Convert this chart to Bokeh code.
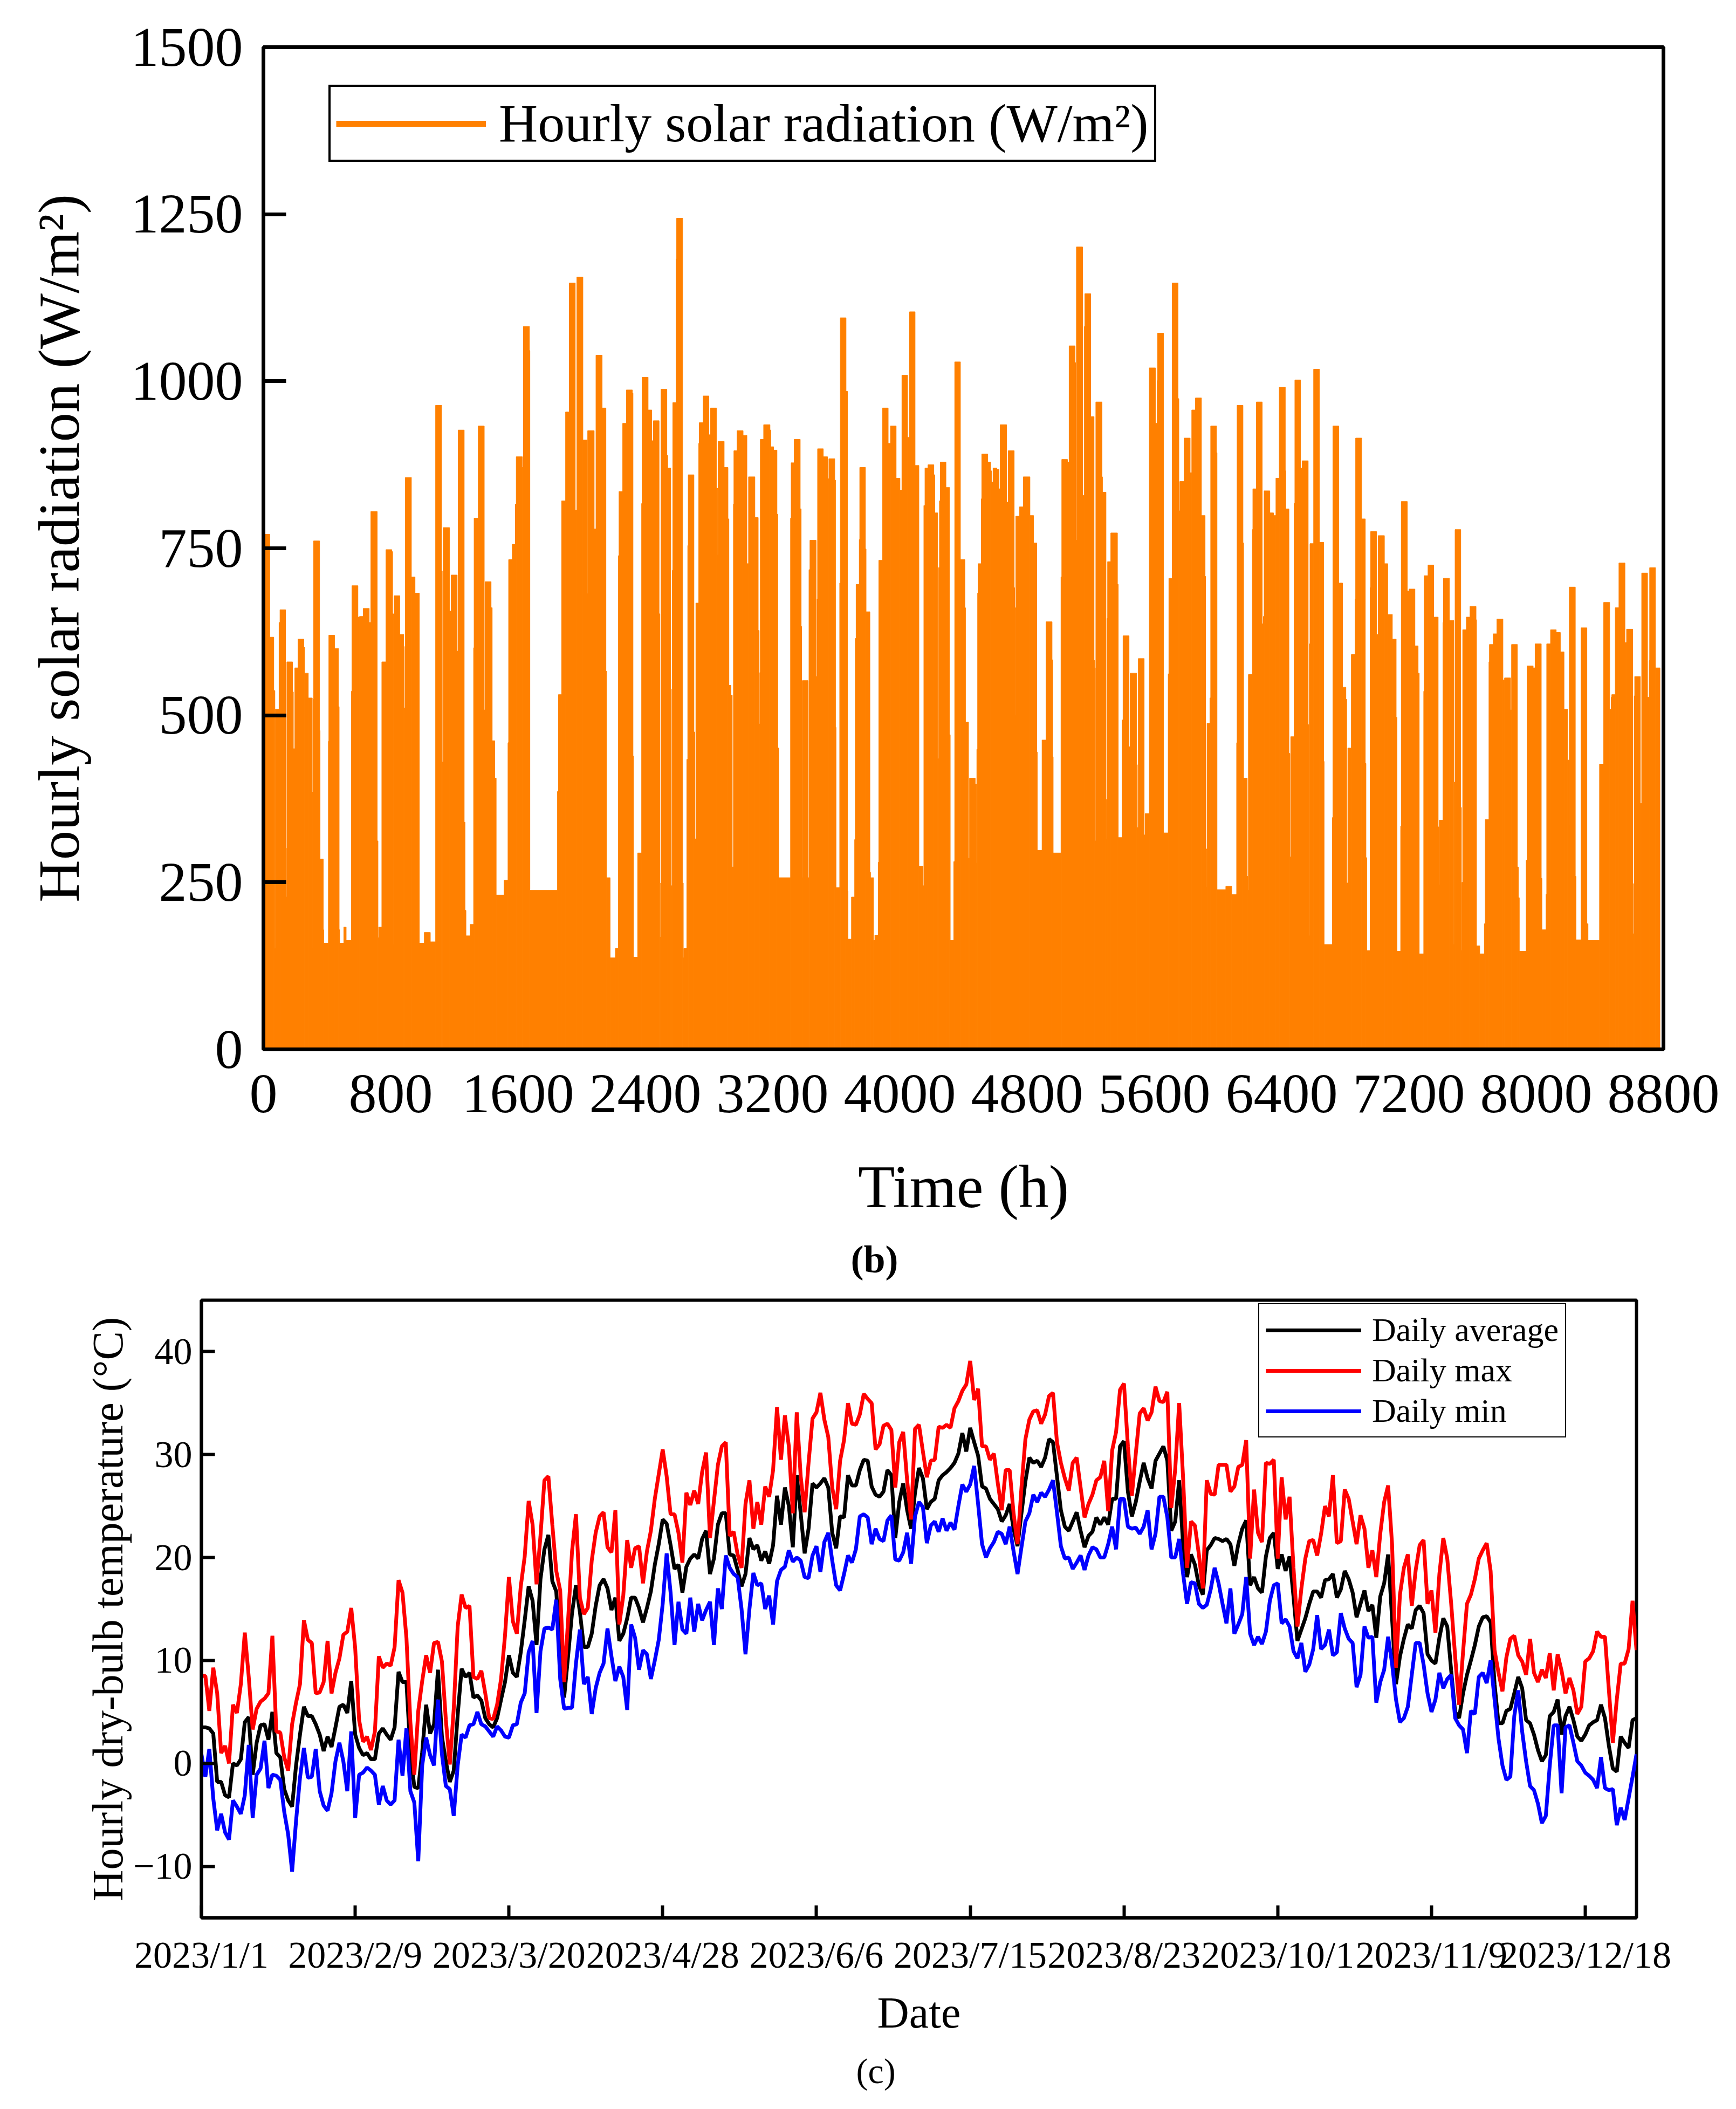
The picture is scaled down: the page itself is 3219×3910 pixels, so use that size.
from bokeh.plotting import figure
from bokeh.models import (ColumnDataSource, FixedTicker, Legend, LegendItem,
                          Title, Range1d)
from bokeh.embed import file_html
from bokeh.resources import INLINE

FONT = "Liberation Serif"
ORANGE = "#FF8000"

# ---- (b) hourly solar radiation, read as steps of the silhouette ----
hour_start = [
    0, 40, 65, 72, 75, 98, 104, 139, 144, 147, 183, 188, 197, 217, 254, 259, 282, 307, 310, 312,
    315, 353, 356, 376, 379, 408, 411, 447, 472, 476, 479, 505, 520, 553, 556, 594, 604, 627, 665, 675,
    715, 720, 724, 744, 770, 807, 812, 817, 821, 857, 882, 889, 892, 930, 953, 980, 1011, 1049, 1082, 1120,
    1124, 1130, 1170, 1180, 1218, 1224, 1262, 1267, 1273, 1299, 1321, 1324, 1350, 1388, 1393, 1431, 1438, 1454, 1463, 1512,
    1537, 1541, 1564, 1583, 1589, 1628, 1634, 1672, 1675, 1848, 1854, 1874, 1899, 1922, 1960, 1970, 2008, 2035, 2038, 2079,
    2090, 2129, 2153, 2157, 2179, 2212,
    2231, 2235, 2258, 2281, 2319, 2323, 2326, 2352, 2377, 2380, 2418, 2441, 2451, 2487, 2492, 2496, 2499, 2536, 2541, 2560,
    2564, 2570, 2573, 2594, 2597, 2635, 2639, 2642, 2661, 2667, 2670, 2706, 2712, 2718, 2736, 2739, 2764, 2800, 2810, 2848,
    2854, 2858, 2896, 2920, 2926, 2939, 2947, 2954, 2957, 2977, 3015, 3039, 3049, 3089, 3110, 3116, 3120, 3123, 3144, 3184,
    3189, 3207, 3228, 3233, 3239, 3313, 3317, 3336, 3374, 3380, 3383, 3387, 3423, 3429, 3435, 3474, 3480, 3483, 3519, 3546,
    3554, 3591, 3596, 3599, 3622, 3626, 3662, 3671, 3674, 3696, 3716, 3720, 3725, 3745, 3748, 3784, 3788, 3812, 3816, 3835,
    3843, 3864, 3868, 3891, 3927, 3941, 3977, 4001, 4013, 4049, 4061, 4096, 4120, 4146, 4151, 4158, 4177, 4214, 4220, 4238,
    4243, 4249, 4254, 4290, 4313, 4317, 4339, 4345, 4381, 4409, 4413, 4432, 4438,
    4474, 4482, 4484, 4489, 4492, 4512, 4515, 4553, 4571, 4576, 4586, 4610, 4624, 4631, 4671, 4681, 4719, 4722, 4725, 4729,
    4752, 4776, 4818, 4841, 4861, 4864, 4894, 4919, 4957, 4961, 4964, 5013, 5018, 5054, 5064, 5102, 5105, 5110, 5149, 5160,
    5163, 5200, 5221, 5225, 5229, 5232, 5271, 5274, 5296, 5300, 5303, 5306, 5326, 5368, 5373, 5397, 5403, 5441, 5448, 5489,
    5493, 5499, 5536, 5542, 5568, 5607, 5618, 5620, 5658, 5687, 5691, 5712, 5749, 5754, 5760, 5787, 5825, 5835, 5858, 5896,
    5919, 5922, 5926, 5931, 5949, 5954, 5991, 5994, 6049, 6086, 6117, 6120, 6157, 6161, 6184, 6188, 6191, 6216, 6219, 6241,
    6278, 6285, 6290, 6326, 6349, 6364, 6385, 6423, 6426, 6446, 6452, 6457, 6478, 6483, 6519, 6529, 6567, 6571, 6574, 6578,
    6601, 6638,
    6664, 6667, 6719, 6722, 6759, 6783, 6804, 6809, 6816, 6838, 6862, 6865, 6903, 6926, 6930, 6935, 6956, 6959, 6997, 7007,
    7046, 7067, 7096, 7120, 7125, 7148, 7152, 7190, 7201, 7238, 7258, 7265, 7293, 7296, 7320, 7356, 7384, 7388, 7391, 7414,
    7417, 7455, 7482, 7485, 7490, 7526, 7530, 7533, 7538, 7561, 7584, 7622, 7625, 7645, 7674, 7680, 7703, 7706, 7730, 7753,
    7791, 7801, 7839, 7845, 7882, 7888, 7894, 7937, 7943, 7981, 7993, 8032, 8036, 8062, 8066, 8090, 8126, 8152, 8175, 8198,
    8206, 8208, 8246, 8250, 8282, 8319, 8326, 8398, 8424, 8462, 8471, 8475, 8497, 8520, 8558, 8568, 8607, 8611, 8616, 8619,
    8655, 8663, 8700, 8710, 8713, 8750,
]
solar_w = [
    771, 617, 537, 151, 509, 639, 658, 301, 228, 580, 535, 450, 571, 614, 602, 563, 526, 385, 151, 524,
    761, 477, 285, 179, 159, 461, 620, 600, 513, 179, 159, 183, 163, 536, 694, 647, 648, 660, 639, 805,
    312, 167, 183, 580, 748, 745, 652, 157, 679, 621, 511, 603, 856, 707, 683, 159, 175, 161, 964, 716,
    430, 781, 656, 710, 596, 927, 340, 208, 170, 187, 601, 795, 933, 508, 700, 661, 462, 406, 231, 253,
    459, 733, 756, 816, 887, 871, 1082, 1046, 238, 386, 531, 821, 954, 1147, 807, 1156, 912, 682, 926, 779,
    1039, 960, 566, 257, 137, 151,
    739, 835, 937, 987, 982, 439, 138, 294, 817, 1006, 957, 911, 941, 652, 168, 249, 988, 889, 870, 539,
    245, 717, 968, 1183, 1244, 249, 137, 151, 434, 754, 860, 475, 315, 668, 907, 938, 978, 920, 960, 840,
    740, 910, 871, 794, 545, 530, 273, 816, 896, 926, 919, 727, 857, 796, 627, 487, 564, 913, 935, 927,
    902, 897, 801, 451, 257, 795, 878, 913, 809, 633, 257, 552, 257, 718, 762, 558, 674, 899, 887, 854,
    884, 852, 482, 242, 698, 1095, 985, 237, 165, 228, 314, 615, 696, 763, 871, 749, 655, 265, 257, 163,
    171, 280, 732, 960, 907, 933, 855, 837, 1009, 916, 1104, 874, 274, 245, 814, 870, 875, 860, 803, 435,
    721, 821, 879, 841, 471, 163, 281, 1029, 733, 661, 490, 286, 406,
    397, 279, 449, 683, 727, 824, 891, 879, 866, 849, 870, 868, 839, 935, 819, 896, 691, 500, 661, 798,
    812, 857, 799, 758, 445, 298, 463, 640, 583, 438, 294, 707, 883, 879, 1053, 1028, 762, 1201, 829, 1082,
    1131, 947, 582, 571, 312, 969, 857, 834, 374, 314, 645, 730, 773, 696, 317, 493, 619, 453, 563, 426,
    332, 585, 321, 353, 1020, 937, 1001, 1072, 324, 562, 705, 1147, 974, 806, 850, 915, 863, 957, 975, 799,
    708, 243, 300, 488, 526, 933, 893, 239, 244, 232, 459, 964, 758, 406, 259, 238, 561, 778, 839, 969,
    637, 648, 836, 803, 799, 855, 991, 866, 809, 443, 288, 468, 817, 1002, 870, 881, 486, 170, 607, 757,
    1018, 759,
    431, 157, 347, 933, 698, 542, 524, 249, 451, 591, 674, 915, 794, 428, 287, 148, 691, 775, 621, 769,
    727, 651, 614, 497, 147, 334, 820, 686, 689, 604, 563, 143, 536, 709, 725, 647, 333, 246, 343, 639,
    705, 642, 157, 400, 778, 362, 148, 250, 628, 647, 663, 643, 155, 143, 188, 344, 580, 606, 622, 644,
    553, 556, 508, 606, 273, 227, 147, 283, 574, 571, 607, 256, 179, 232, 607, 628, 624, 595, 509, 433,
    335, 692, 259, 164, 631, 188, 163, 427, 669, 509, 527, 531, 661, 728, 609, 629, 248, 173, 529, 558,
    368, 713, 527, 582, 721, 571,
]
last_hour = 8778
hour_ticks = list(range(0, 8801, 800))
solar_ticks = list(range(0, 1501, 250))

# ---- (c) daily dry-bulb temperature, 2023 ----
max_temp = [
    8.5, 8.5, 5.1, 9.3, 6.8, 1.0, 1.7, 0.0, 5.7, 4.9, 7.7, 12.7, 8.4, 3.3, 5.3, 6.0, 6.3, 6.8, 12.4, 3.1,
    3.0, 0.6, -0.7, 3.8, 5.9, 7.7, 13.9, 12.0, 11.7, 6.8, 6.9, 7.9, 11.9, 6.8, 8.8, 10.2, 12.5, 12.8, 15.1, 11.2,
    4.2, 2.1, 2.6, 1.3, 3.1, 10.4, 9.3, 9.7, 9.5, 11.3, 17.8, 16.6, 12.2, 4.0, -1.1, 5.1, 8.0, 10.5, 8.8, 11.7,
    11.8, 9.9, 4.2, -0.1, 5.3, 13.3, 16.4, 15.1, 15.3, 8.4, 8.2, 9.0, 6.8, 4.4, 4.3, 5.7, 8.2, 12.4, 18.1, 13.8,
    12.6, 17.2, 20.1, 25.5, 23.2, 17.4, 22.1, 27.5, 27.9, 23.2, 18.7, 16.8, 7.9, 13.9, 20.6, 24.2, 16.1, 14.5, 15.1, 19.7,
    22.4, 24.0, 24.4, 21.0, 20.5, 24.6, 13.5, 16.3, 21.7, 19.0, 20.9, 21.1, 17.5, 20.6, 22.6, 25.7, 28.1, 30.5, 27.9, 24.2,
    24.2, 22.4, 19.5,
    26.3, 25.1, 26.5, 25.2, 28.3, 30.2, 21.9, 25.5, 29.0, 30.8, 31.2, 22.1, 22.5, 20.3, 19.0, 25.2, 27.5, 22.8, 25.4, 23.2,
    26.9, 25.9, 28.5, 34.6, 29.5, 33.8, 30.8, 24.3, 34.1, 27.9, 24.4, 29.2, 33.5, 34.1, 36.0, 33.4, 31.7, 26.8, 24.7, 29.4,
    31.4, 35.0, 33.0, 32.9, 33.9, 35.9, 35.4, 35.0, 30.5, 31.0, 32.8, 33.0, 32.4, 26.8, 31.2, 32.2, 27.5, 23.7, 32.5, 32.9,
    30.3, 27.8, 29.4, 29.5, 32.7, 32.6, 32.9, 32.6, 34.5, 35.2, 36.2, 36.8, 39.1, 35.3, 36.4, 30.8, 30.8, 29.5, 30.1, 27.2,
    24.6, 28.5, 28.5, 24.3, 21.3, 26.8, 31.5, 33.4, 34.2, 34.3, 33.0, 33.9, 35.7, 36.0, 31.2, 29.2, 27.7, 26.5, 29.2, 29.7,
    26.8, 23.9, 25.2, 26.1, 27.5, 27.8, 29.4, 24.5, 30.4, 32.2, 36.3, 36.9, 30.8, 26.0, 30.1, 34.0, 34.5, 33.3, 34.1, 36.6,
    35.2, 35.1, 36.1, 24.8, 28.6, 35.0, 27.7, 19.0, 23.5, 23.1, 20.3, 17.0, 27.5, 26.2, 26.1, 29.0, 29.0, 29.0, 26.4, 26.9,
    28.8, 29.0, 31.4, 19.9, 26.6, 22.4, 21.5, 29.2, 29.1, 29.5, 19.9, 27.8, 23.7, 25.9, 19.0, 13.3, 17.0, 19.9, 21.6, 21.7,
    20.2, 22.3, 25.0, 24.0, 28.0, 21.4, 21.6, 26.6, 25.7, 23.5, 21.3, 24.1, 22.8, 19.0, 20.7, 18.1, 22.3, 25.4, 27.0, 21.3,
    9.3, 16.4, 19.0, 20.3, 15.3, 18.8, 21.2, 21.7, 15.5, 16.8, 12.7, 18.4, 21.9, 19.9, 15.5, 10.4, 5.7, 10.8, 15.5, 16.4,
    17.9, 19.9, 20.7, 21.4, 18.7, 11.0, 8.8, 7.0, 10.3, 12.1, 12.4, 10.5, 9.9, 8.6, 12.1, 8.8, 7.9, 9.1, 8.3, 10.7,
    7.1, 10.6, 9.0, 6.8, 8.3, 7.1, 4.8, 5.5, 9.9, 10.2, 10.9, 12.8, 12.3, 12.3, 7.1, 2.0, 6.2, 9.7, 9.7, 11.1,
    15.8, 11.0,
]
avg_temp = [
    3.5, 3.5, 3.4, 2.9, -1.8, -1.8, -3.1, -3.3, 0.0, -0.2, 0.4, 4.0, 4.5, -1.1, 2.0, 3.7, 3.8, 2.3, 5.0, 1.0,
    0.6, -2.5, -3.6, -4.2, -0.2, 2.8, 5.5, 4.6, 4.6, 3.8, 2.8, 1.2, 2.6, 1.6, 3.5, 5.5, 5.7, 4.9, 8.0, 2.8,
    1.5, 0.8, 1.0, 0.4, 0.4, 2.9, 3.4, 2.8, 2.3, 3.5, 8.9, 7.9, 7.9, 1.1, -2.3, -2.4, 1.1, 5.7, 2.9, 3.8,
    9.1, 2.6, 0.2, -1.8, -0.7, 4.7, 9.2, 8.4, 8.8, 6.4, 6.6, 6.1, 4.4, 3.8, 3.5, 4.4, 6.2, 7.9, 10.5, 8.8,
    8.4, 10.8, 13.9, 17.2, 15.8, 11.5, 17.9, 20.8, 22.2, 17.7, 16.7, 10.8, 6.4, 10.4, 14.6, 17.3, 14.7, 11.3, 11.3, 12.6,
    15.3, 17.3, 17.9, 17.0, 14.9, 16.1, 11.9, 12.6, 14.1, 16.1, 16.1, 15.1, 13.7, 15.1, 16.7, 19.3, 21.3, 23.7, 23.3, 21.2,
    18.9, 19.3, 16.6,
    19.1, 19.9, 20.3, 19.9, 21.8, 22.6, 18.4, 19.9, 23.2, 24.3, 24.3, 20.3, 20.2, 18.8, 17.2, 18.4, 21.9, 20.8, 21.2, 19.7,
    20.6, 19.4, 21.2, 26.0, 23.2, 26.8, 25.0, 21.0, 28.0, 24.3, 20.4, 22.8, 27.2, 26.8, 27.2, 27.7, 26.8, 22.4, 20.9, 24.0,
    23.9, 28.0, 27.0, 27.0, 28.5, 29.5, 29.4, 26.9, 26.1, 25.9, 26.4, 28.5, 28.0, 21.9, 25.4, 27.2, 24.6, 22.8, 26.3, 28.7,
    27.7, 24.7, 25.4, 25.7, 27.5, 28.0, 28.3, 28.7, 29.2, 30.1, 32.1, 30.3, 32.6, 31.2, 29.9, 26.9, 26.7, 25.7, 25.2, 24.7,
    23.5, 24.1, 25.2, 22.8, 21.1, 24.3, 27.4, 29.7, 29.2, 29.4, 28.8, 29.7, 31.5, 31.2, 27.9, 24.6, 23.0, 22.6, 23.5, 24.4,
    22.6, 21.0, 22.1, 22.5, 23.9, 23.2, 23.9, 23.2, 25.7, 25.7, 30.8, 31.3, 26.4, 24.0, 25.4, 27.4, 29.2, 27.7, 26.7, 29.4,
    30.1, 30.8, 29.4, 22.6, 23.5, 27.5, 21.2, 18.1, 20.3, 19.3, 17.3, 16.4, 20.7, 21.2, 21.9, 21.8, 21.6, 21.8, 21.3, 19.2,
    21.3, 22.8, 23.6, 17.3, 18.1, 17.0, 16.6, 20.1, 21.9, 22.4, 18.9, 20.3, 18.7, 20.1, 16.2, 11.9, 13.0, 14.1, 15.5, 16.7,
    16.7, 16.1, 17.8, 17.9, 18.4, 16.1, 16.9, 18.7, 17.9, 16.6, 14.2, 15.5, 16.8, 14.8, 15.4, 12.2, 16.2, 17.5, 20.3, 14.1,
    7.7, 10.4, 12.1, 13.5, 13.1, 14.9, 15.3, 14.6, 10.6, 10.0, 9.7, 12.2, 14.1, 13.3, 9.0, 5.0, 4.4, 6.8, 8.6, 10.0,
    11.5, 13.3, 14.2, 14.3, 13.7, 7.7, 3.9, 3.9, 5.1, 5.3, 6.8, 8.4, 7.3, 4.2, 3.9, 2.8, 1.3, 0.2, 0.8, 4.6,
    5.0, 6.2, 2.8, 4.6, 5.5, 4.2, 2.6, 2.2, 2.8, 3.7, 4.0, 4.2, 5.7, 4.4, 1.7, -0.5, -0.8, 2.6, 2.0, 1.5,
    4.2, 4.4,
]
min_temp = [
    0.9, -1.3, 1.4, -3.4, -6.5, -4.9, -6.7, -7.4, -3.6, -4.2, -4.9, -3.1, 1.8, -5.3, -1.1, -0.5, 2.2, -2.4, -1.1, -1.2,
    -1.6, -4.7, -6.9, -10.5, -5.6, -1.4, 1.5, -1.4, -1.3, 1.4, -2.7, -4.1, -4.6, -2.9, 0.2, 2.0, 0.2, -2.7, 3.1, -5.3,
    -1.1, -0.9, -0.4, -0.7, -1.1, -4.0, -2.2, -3.6, -4.0, -3.6, 2.3, -1.2, 3.4, -2.7, -3.8, -9.5, -0.2, 2.5, 0.8, -0.2,
    6.2, 0.9, -2.2, -2.5, -5.1, -0.2, 2.8, 2.5, 3.7, 3.8, 5.0, 3.8, 3.6, 3.1, 2.6, 3.6, 3.2, 2.6, 2.5, 3.7,
    3.8, 5.9, 6.8, 10.8, 11.9, 4.9, 10.9, 13.1, 13.2, 13.0, 15.9, 8.2, 5.3, 5.4, 5.4, 9.7, 13.0, 7.7, 8.4, 4.8,
    7.3, 8.8, 9.7, 13.1, 10.4, 8.0, 9.4, 8.4, 5.2, 13.5, 12.2, 9.1, 11.0, 10.6, 8.2, 10.0, 12.0, 15.5, 20.4, 16.6,
    11.5, 15.7, 13.0,
    12.6, 16.1, 12.8, 15.5, 13.9, 14.9, 15.7, 11.5, 17.0, 15.0, 20.2, 19.0, 18.4, 18.1, 15.0, 10.6, 15.0, 18.5, 17.3, 17.5,
    15.0, 16.3, 13.5, 17.7, 18.8, 19.1, 20.7, 19.6, 20.0, 19.7, 18.1, 18.0, 20.2, 21.1, 18.6, 21.5, 22.4, 19.7, 17.3, 16.8,
    18.4, 20.2, 19.5, 20.8, 24.0, 24.2, 23.9, 21.3, 22.8, 21.8, 21.6, 23.6, 24.1, 19.8, 19.7, 20.5, 22.4, 19.4, 24.0, 25.4,
    24.9, 21.4, 23.1, 23.5, 22.5, 23.8, 22.6, 23.4, 22.7, 25.0, 27.1, 26.4, 27.1, 28.9, 25.2, 21.3, 20.0, 20.9, 21.5, 22.5,
    22.3, 21.3, 23.0, 20.6, 18.4, 21.0, 23.5, 24.3, 26.1, 25.4, 26.3, 25.9, 26.6, 27.5, 24.4, 21.1, 19.9, 20.0, 18.9, 19.5,
    20.2, 18.8, 20.2, 21.0, 20.8, 20.0, 20.0, 21.3, 23.0, 20.8, 25.7, 25.7, 23.0, 22.8, 22.9, 22.3, 23.0, 24.6, 20.8, 22.3,
    25.9, 25.9, 23.9, 20.0, 20.0, 21.8, 18.4, 15.5, 17.6, 17.5, 15.5, 15.1, 15.4, 16.9, 19.0, 17.5, 15.5, 13.6, 17.0, 12.6,
    13.5, 14.5, 18.1, 12.6, 11.5, 12.3, 11.6, 12.8, 15.8, 17.3, 17.5, 13.6, 14.0, 13.3, 10.9, 10.2, 11.7, 8.9, 9.6, 11.1,
    14.4, 11.1, 11.5, 13.0, 10.5, 10.8, 14.6, 13.1, 12.1, 11.7, 7.4, 8.6, 13.3, 12.2, 12.3, 5.9, 7.9, 9.1, 12.3, 9.7,
    6.2, 4.0, 4.4, 5.5, 8.6, 11.7, 11.7, 9.6, 6.8, 5.0, 6.2, 8.8, 7.3, 8.2, 8.6, 4.4, 3.7, 3.3, 1.0, 5.1,
    4.8, 8.4, 8.8, 7.8, 10.0, 6.2, 2.4, -0.2, -1.6, -1.3, 4.6, 7.1, 3.1, 0.2, -2.2, -2.6, -3.9, -5.8, -5.1, -0.2,
    3.7, 3.7, -2.9, 3.5, 3.7, 2.0, 0.2, -0.2, -0.9, -1.2, -1.6, -2.4, 0.6, -2.4, -2.6, -2.5, -6.0, -4.3, -5.5, -3.4,
    -1.3, 0.9,
]
date_ticks = [0, 39, 78, 117, 156, 195, 234, 273, 312, 351]
date_labels = ["2023/1/1", "2023/2/9", "2023/3/20", "2023/4/28", "2023/6/6",
               "2023/7/15", "2023/8/23", "2023/10/1", "2023/11/9", "2023/12/18"]
temp_ticks = [-10, 0, 10, 20, 30, 40]

assert len(hour_start) == len(solar_w), (len(hour_start), len(solar_w))
assert len(max_temp) == len(avg_temp) == len(min_temp) == 365


def style_axes(p, line_w, tick_font):
    for ax in (p.xaxis[0], p.yaxis[0]):
        ax.axis_line_width = line_w
        ax.major_tick_line_width = line_w
        ax.minor_tick_line_color = None
        ax.major_tick_out = 0
        ax.major_label_text_font = FONT
        ax.major_label_text_font_size = tick_font
        ax.major_label_text_color = "black"
        ax.axis_label_text_font = FONT
        ax.axis_label_text_font_style = "normal"
        ax.axis_label_text_color = "black"
    p.grid.visible = False
    p.outline_line_color = "black"
    p.outline_line_width = line_w
    p.outline_line_alpha = 1.0


# ---------------- top chart (b) ----------------
p1 = figure(frame_width=2596, frame_height=1858,
            x_range=Range1d(0, 8800), y_range=Range1d(0, 1500),
            min_border_left=488, min_border_right=119,
            min_border_top=87, min_border_bottom=437,
            output_backend="svg", toolbar_location=None)
right_edge = hour_start[1:] + [last_hour]
bars = ColumnDataSource(dict(left=hour_start, right=right_edge, top=solar_w))
p1.quad(left="left", right="right", bottom=0, top="top", source=bars,
        fill_color=ORANGE, line_color=ORANGE, line_width=1)
# legend proxy, kept outside the visible ranges
leg_line = p1.line(x=[-2000, -1000], y=[-2000, -2000], line_color=ORANGE, line_width=11)

style_axes(p1, 7, "104px")
p1.xaxis.ticker = FixedTicker(ticks=hour_ticks)
p1.yaxis.ticker = FixedTicker(ticks=solar_ticks)
p1.xaxis.major_tick_in = 0
p1.yaxis.major_tick_in = 42
p1.xaxis.major_label_standoff = 48
p1.yaxis.major_label_standoff = 38
p1.xaxis.axis_label = "Time (h)"
p1.yaxis.axis_label = "Hourly solar radiation (W/m\u00b2)"
p1.xaxis.axis_label_text_font_size = "112px"
p1.yaxis.axis_label_text_font_size = "109px"
p1.xaxis.axis_label_standoff = 73
p1.yaxis.axis_label_standoff = 70

leg1 = Legend(items=[LegendItem(label="Hourly solar radiation (W/m\u00b2)", renderers=[leg_line])],
              location=(121, 1645), orientation="vertical",
              label_text_font=FONT, label_text_font_size="100px", label_text_color="black",
              glyph_width=278, glyph_height=106, label_height=106,
              label_standoff=24, padding=10, margin=0, spacing=0,
              border_line_color="black", border_line_width=4, border_line_alpha=1.0,
              background_fill_alpha=1.0)
p1.add_layout(leg1)
p1.add_layout(Title(text="(b)", align="left", offset=1089, standoff=57,
                    text_font=FONT, text_font_size="72px", text_font_style="bold",
                    text_color="black"), "below")

# ---------------- bottom chart (c) ----------------
days = list(range(len(avg_temp)))
p2 = figure(frame_width=2661, frame_height=1145,
            x_range=Range1d(0, 364), y_range=Range1d(-15, 45),
            min_border_left=373, min_border_right=169,
            min_border_top=7, min_border_bottom=340,
            output_backend="svg", toolbar_location=None)
r_avg = p2.line(days, avg_temp, line_color="black", line_width=7)
r_max = p2.line(days, max_temp, line_color="#FF0000", line_width=7)
r_min = p2.line(days, min_temp, line_color="#0000FF", line_width=7)

style_axes(p2, 6, "70px")
p2.xaxis.ticker = FixedTicker(ticks=date_ticks)
p2.xaxis.major_label_overrides = {t: s for t, s in zip(date_ticks, date_labels)}
p2.yaxis.ticker = FixedTicker(ticks=temp_ticks)
p2.yaxis.major_label_overrides = {-10: "\u221210"}
p2.xaxis.major_tick_in = 23
p2.yaxis.major_tick_in = 25
p2.xaxis.major_label_standoff = 30
p2.yaxis.major_label_standoff = 17
p2.xaxis.axis_label = "Date"
p2.yaxis.axis_label = "Hourly dry-bulb temperature (\u00b0C)"
p2.xaxis.axis_label_text_font_size = "82px"
p2.yaxis.axis_label_text_font_size = "80px"
p2.xaxis.axis_label_standoff = 20
p2.yaxis.axis_label_standoff = 0

leg2 = Legend(items=[LegendItem(label="Daily average", renderers=[r_avg]),
                     LegendItem(label="Daily max", renderers=[r_max]),
                     LegendItem(label="Daily min", renderers=[r_min])],
              location=(1960, 890), orientation="vertical",
              label_text_font=FONT, label_text_font_size="62px", label_text_color="black",
              glyph_width=177, glyph_height=60, label_height=60,
              label_standoff=20, padding=12, margin=0, spacing=4,
              border_line_color="black", border_line_width=2, border_line_alpha=1.0,
              background_fill_alpha=1.0)
p2.add_layout(leg2)
p2.add_layout(Title(text="(c)", align="left", offset=1214, standoff=42,
                    text_font=FONT, text_font_size="66px", text_font_style="normal",
                    text_color="black"), "below")

open("out.html", "w").write(file_html([p1, p2], INLINE))
